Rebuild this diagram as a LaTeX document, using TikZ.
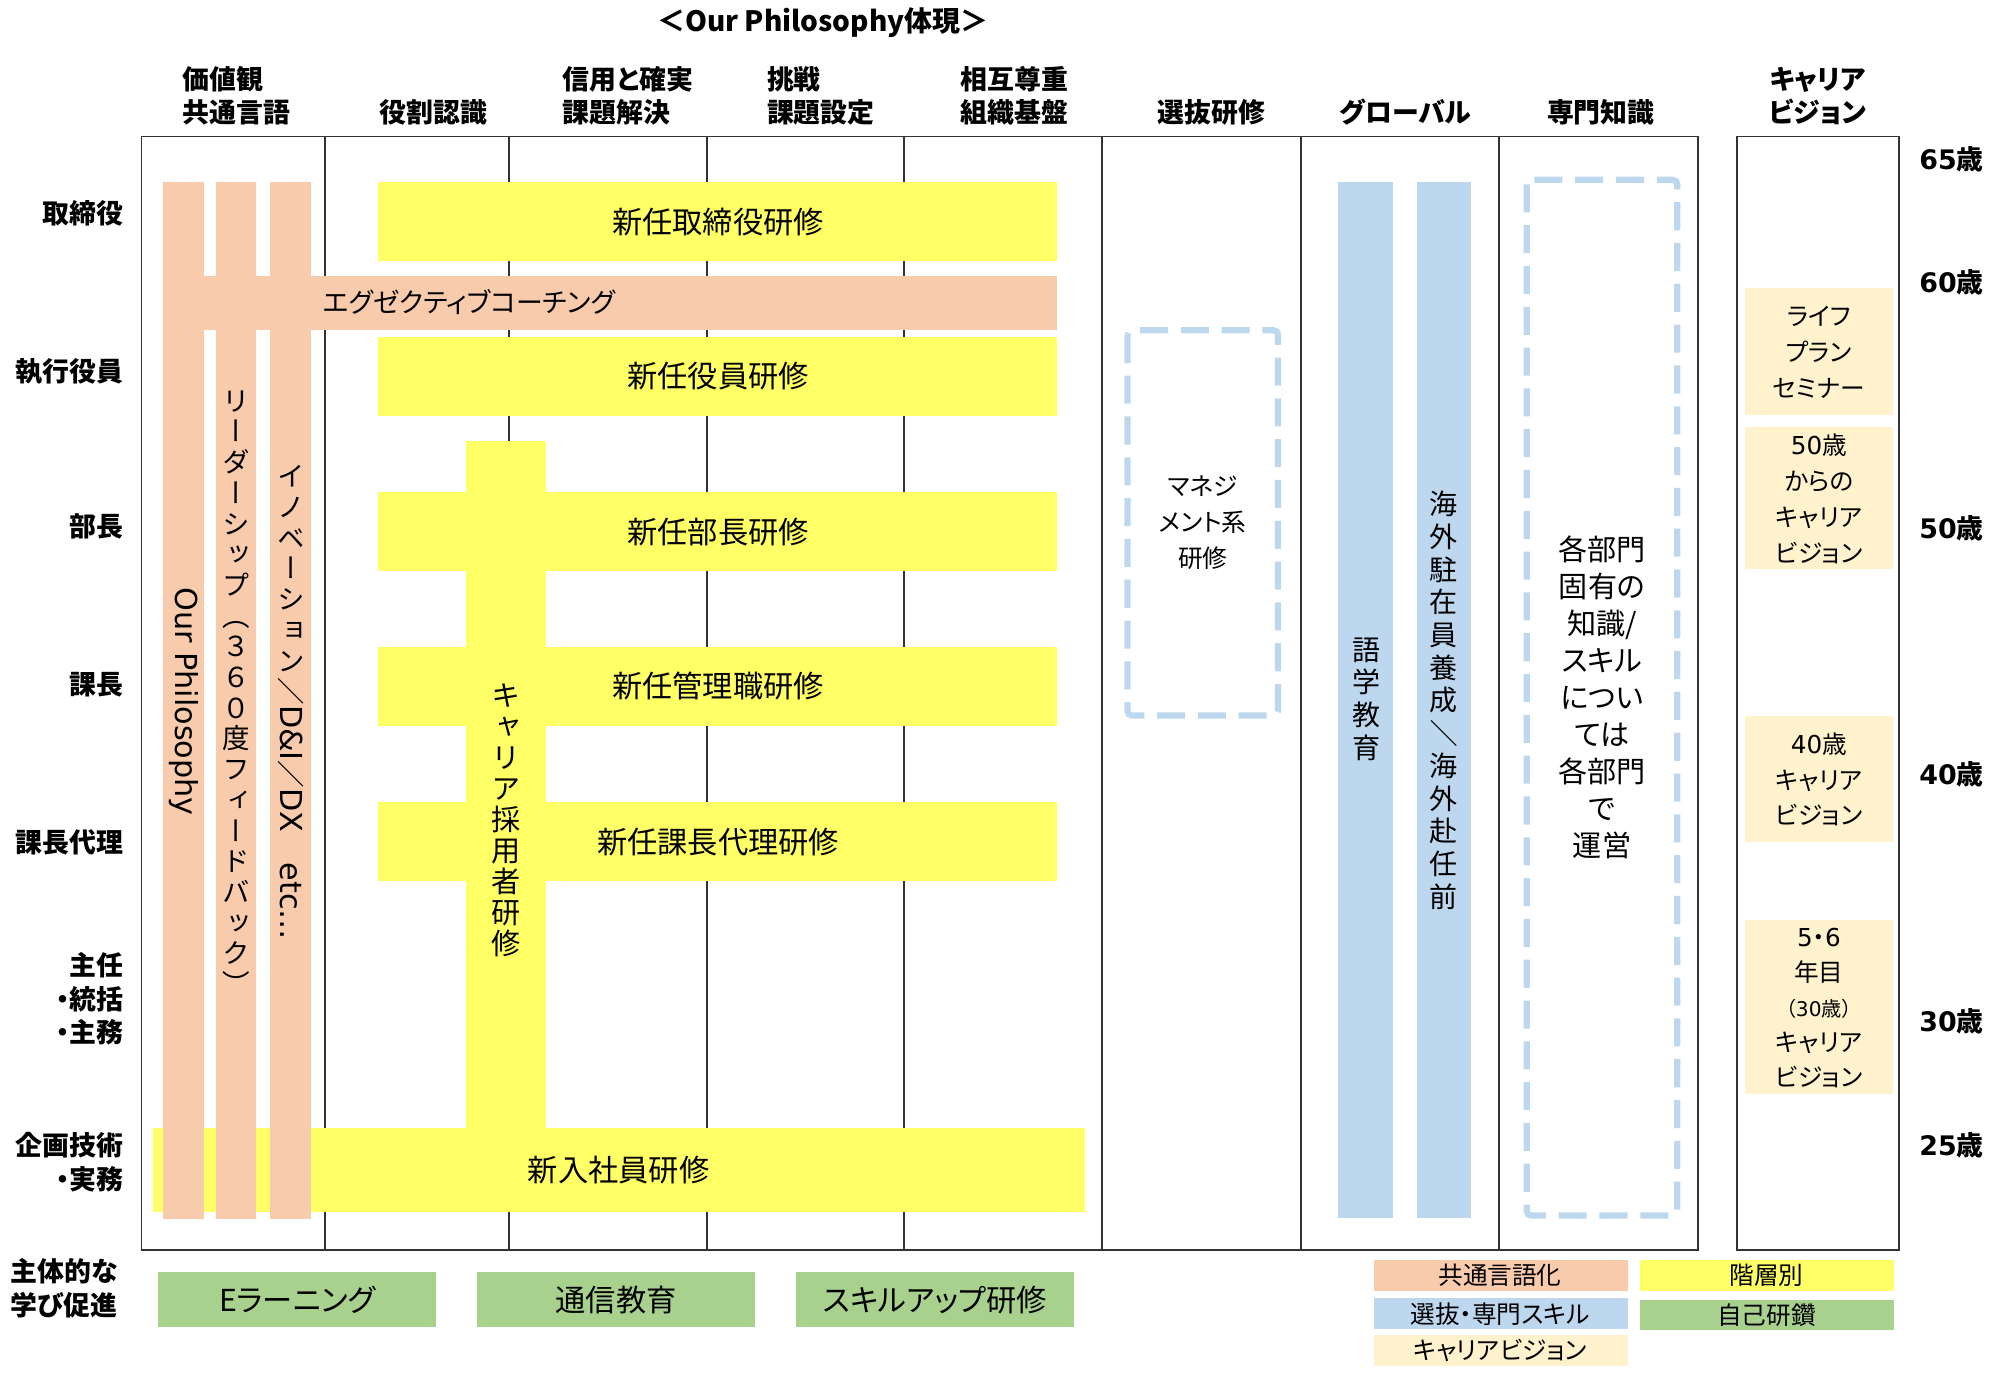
\documentclass[tikz,border=0pt]{standalone}
\usepackage{fontspec}
\usepackage{graphicx}
\setmainfont{Noto Sans CJK JP}[RawFeature=+palt]
\newfontfamily\tatefont{Noto Sans CJK JP}[RawFeature=+vert]
\newfontfamily\vfont{DejaVu Sans}

\definecolor{pinkbar}{HTML}{F8CBAD}
\definecolor{yellowbar}{HTML}{FFFF66}
\definecolor{bluebar}{HTML}{BDD7EE}
\definecolor{creambar}{HTML}{FFF2CC}
\definecolor{greenbar}{HTML}{A9D18E}

% latin run set sideways inside a vertical stack
\newcommand\sideways[1]{\raisebox{0.88em}{\rotatebox{-90}{#1}}}

\begin{document}
\begin{tikzpicture}
[x=0.02cm,y=-0.02cm,
 every node/.style={inner sep=0pt,font=\fontsize{13.5}{16}\selectfont},
 lbl/.style={font=\fontsize{12}{15}\selectfont\bfseries,align=right,anchor=east},
 hdr/.style={font=\fontsize{12}{14.8}\selectfont\bfseries,align=left},
 age/.style={font=\fontsize{12}{14}\selectfont\bfseries},
 tate/.style={align=center,font=\tatefont\fontsize{12}{13.4}\selectfont},
 cv/.style={align=center,font=\fontsize{11}{16}\selectfont},
 lg/.style={font=\fontsize{11}{13}\selectfont},
 grid/.style={line width=0.8pt,black!80},
 dashbox/.style={draw=bluebar,line width=2.8pt,dash pattern=on 0.44cm off 0.2cm,rounded corners=2pt}]
\useasboundingbox (0,0) rectangle (1568,1078);

% frame and columns
\draw[grid] (111,107) rectangle (1331,980);
\foreach \x in {255,399,554,709,864,1020,1175}
\draw[grid] (\x,107) -- (\x,980);
\draw[grid] (1362,107) rectangle (1489,980);

% title and headers
\node[font=\fontsize{12.5}{15}\selectfont\bfseries] (title) at (645,18) {＜Our Philosophy体現＞};
\node[hdr,anchor=west] (h1) at (143,75) {価値観\\共通言語};
\node[hdr] (h2) at (340,88) {役割認識};
\node[hdr,anchor=west] (h3) at (441,75) {信用と確実\\課題解決};
\node[hdr,anchor=west] (h4) at (601,75) {挑戦\\課題設定};
\node[hdr,anchor=west] (h5) at (753,75) {相互尊重\\組織基盤};
\node[hdr] (h6) at (950,88) {選抜研修};
\node[hdr] (h7) at (1102,88) {グローバル};
\node[hdr] (h8) at (1255,88) {専門知識};
\node[hdr,align=center] (h9) at (1425,75) {キャリア\\ビジョン};

% rank labels
\node[lbl] (r1) at (97,167) {取締役};
\node[lbl] (r2) at (97,291) {執行役員};
\node[lbl] (r3) at (97,413) {部長};
\node[lbl] (r4) at (97,537) {課長};
\node[lbl] (r5) at (97,660) {課長代理};
\node[lbl] (r6) at (97,783) {主任\\・統括\\・主務};
\node[lbl] (r7) at (97,911) {企画技術\\・実務};
\node[lbl,anchor=west,align=left] (r8) at (8,1010) {主体的な\\学び促進};

% ages
\node[age] (a65) at (1530,125) {{\vfont 65}歳};
\node[age] (a60) at (1530,221) {{\vfont 60}歳};
\node[age] (a50) at (1530,414) {{\vfont 50}歳};
\node[age] (a40) at (1530,607) {{\vfont 40}歳};
\node[age] (a30) at (1530,801) {{\vfont 30}歳};
\node[age] (a25) at (1530,898) {{\vfont 25}歳};

% rank trainings
\fill[yellowbar] (296,143) rectangle (829,205);
\fill[yellowbar] (296,264) rectangle (829,326);
\fill[yellowbar] (296,386) rectangle (829,448);
\fill[yellowbar] (296,507) rectangle (829,569);
\fill[yellowbar] (296,629) rectangle (829,691);
\fill[yellowbar] (120,884) rectangle (851,950);
\fill[yellowbar] (365,346) rectangle (428,884);
\node (tori) at (563,174) {新任取締役研修};
\node (yakuin) at (563,295) {新任役員研修};
\node (bucho) at (563,417) {新任部長研修};
\node (kacho) at (563,538) {新任管理職研修};
\node (dairi) at (563,660) {新任課長代理研修};
\node (shinnyu) at (485,917) {新入社員研修};
\node[tate,font=\tatefont\fontsize{13}{13.8}\selectfont] (chuto) at (397,643) {キ\\ャ\\リ\\ア\\採\\用\\者\\研\\修};

% common language bars
\fill[pinkbar] (128,216) rectangle (829,259);
\foreach \x in {128,169,212}
\fill[pinkbar] (\x,143) rectangle ++(32,813);
\node[font=\fontsize{12}{15}\selectfont] (coach) at (368,237) {エグゼクティブコーチング};
\node[rotate=-90,font=\vfont\fontsize{13.5}{15}\selectfont] (ourphil) at (144,550) {Our Philosophy};
\node[tate,font=\tatefont\fontsize{12.3}{13.7}\selectfont] (leader) at (185,543) {リ\\ー\\ダ\\ー\\シ\\ッ\\プ\\（\\３\\６\\０\\度\\フ\\ィ\\ー\\ド\\バ\\ッ\\ク\\）};
\node[tate,font=\tatefont\fontsize{12.3}{13.7}\selectfont] (innov) at (228,551) {イ\\ノ\\ベ\\ー\\シ\\ョ\\ン\\\sideways{／{\vfont\fontsize{13.5}{15}\selectfont D\&I}／{\vfont\fontsize{13.5}{15}\selectfont DX\quad etc…}}};

% selection and special skills
\draw[dashbox] (884,259) rectangle (1002,561);
\node[cv] (mgmt) at (943,410) {マネジ\\メント系\\研修};
\fill[bluebar] (1049,143) rectangle (1092,955);
\fill[bluebar] (1111,143) rectangle (1153,955);
\node[tate,font=\tatefont\fontsize{12.5}{14.6}\selectfont] (gogaku) at (1071,548) {語\\学\\教\\育};
\node[tate,font=\tatefont\fontsize{12.5}{14.6}\selectfont] (kaigai) at (1132,549) {海\\外\\駐\\在\\員\\養\\成\\\sideways{／}\\海\\外\\赴\\任\\前};
\draw[dashbox] (1197,141) rectangle (1315,953);
\node[cv,font=\fontsize{13}{16.5}\selectfont] (senmon) at (1256,547) {各部門\\固有の\\知識/\\スキル\\につい\\ては\\各部門\\で\\運営};

% career vision
\fill[creambar] (1368,226) rectangle (1484,325);
\fill[creambar] (1368,335) rectangle (1484,446);
\fill[creambar] (1368,561) rectangle (1484,660);
\fill[creambar] (1368,721) rectangle (1484,858);
\node[cv] (life) at (1426,276) {ライフ\\プラン\\セミナー};
\node[cv] (cv50) at (1426,391) {{\vfont 50}歳\\からの\\キャリア\\ビジョン};
\node[cv] (cv40) at (1426,611) {{\vfont 40}歳\\キャリア\\ビジョン};
\node[cv,font=\fontsize{11}{15.6}\selectfont] (cv30) at (1426,790) {{\vfont 5}・{\vfont 6}\\年目\\{\fontsize{9}{10}\selectfont（{\vfont 30}歳）}\\キャリア\\ビジョン};

% self development
\fill[greenbar] (124,997) rectangle (342,1040);
\fill[greenbar] (374,997) rectangle (592,1040);
\fill[greenbar] (624,997) rectangle (842,1040);
\node (elearn) at (233,1019) {Eラーニング};
\node (tsushin) at (483,1019) {通信教育};
\node (skillup) at (733,1019) {スキルアップ研修};

% legend
\fill[pinkbar] (1077,988) rectangle (1276,1012);
\fill[bluebar] (1077,1018) rectangle (1276,1042);
\fill[creambar] (1077,1047) rectangle (1276,1071);
\fill[yellowbar] (1286,988) rectangle (1485,1012);
\fill[greenbar] (1286,1019) rectangle (1485,1043);
\node[lg] (lg1) at (1176,1000) {共通言語化};
\node[lg] (lg2) at (1176,1030) {選抜・専門スキル};
\node[lg] (lg3) at (1176,1059) {キャリアビジョン};
\node[lg] (lg4) at (1385,1000) {階層別};
\node[lg] (lg5) at (1385,1031) {自己研鑽};

\end{tikzpicture}
\end{document}
